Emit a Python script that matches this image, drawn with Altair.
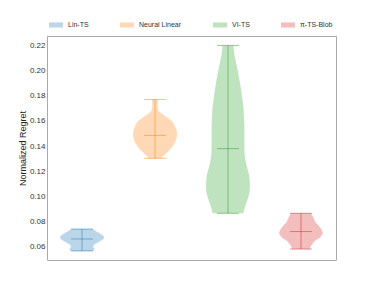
import altair as alt
import pandas as pd

methods = ["Lin-TS", "Neural Linear", "VI-TS", "π-TS-Blob"]
colors = ["#1f77b4", "#ff7f0e", "#2ca02c", "#d62728"]

# violin outlines: regret value and relative density (0-1)
lin_vals = [0.0741, 0.0731, 0.0715, 0.0699, 0.0679, 0.0664, 0.0648, 0.0632, 0.0616, 0.0604, 0.0592, 0.0580, 0.0567]
lin_dens = [0.49, 0.57, 0.72, 0.87, 1.00, 0.98, 0.85, 0.70, 0.55, 0.51, 0.53, 0.57, 0.51]

nl_vals = [0.1771, 0.1732, 0.1692, 0.1668, 0.1652, 0.1628, 0.1612, 0.1593, 0.1573, 0.1549,
           0.1520, 0.1493, 0.1470, 0.1440, 0.1414, 0.1388, 0.1366, 0.1348, 0.1322, 0.1303]
nl_dens = [0.14, 0.12, 0.14, 0.23, 0.36, 0.55, 0.68, 0.80, 0.86, 0.93,
           0.99, 1.00, 0.99, 0.94, 0.86, 0.76, 0.64, 0.53, 0.38, 0.27]

vi_vals = [0.2200, 0.2129, 0.2063, 0.1994, 0.1930, 0.1867, 0.1797, 0.1732, 0.1666, 0.1597,
           0.1533, 0.1470, 0.1400, 0.1335, 0.1269, 0.1231, 0.1189, 0.1136, 0.1083, 0.1041,
           0.1003, 0.0964, 0.0924, 0.0894, 0.0866]
vi_dens = [0.25, 0.29, 0.37, 0.45, 0.52, 0.58, 0.64, 0.69, 0.72, 0.74,
           0.75, 0.75, 0.75, 0.76, 0.82, 0.87, 0.94, 0.99, 1.00, 0.99,
           0.94, 0.87, 0.79, 0.74, 0.70]

pi_vals = [0.0866, 0.0850, 0.0834, 0.0814, 0.0795, 0.0781, 0.0768, 0.0747, 0.0729, 0.0707,
           0.0692, 0.0676, 0.0662, 0.0650, 0.0636, 0.0622, 0.0601, 0.0582]
pi_dens = [0.47, 0.51, 0.56, 0.61, 0.66, 0.74, 0.81, 0.90, 0.96, 1.00,
           0.95, 0.88, 0.77, 0.66, 0.58, 0.52, 0.44, 0.41]

medians = [0.0662, 0.1485, 0.1380, 0.0721]
y_ticks = [0.06, 0.08, 0.10, 0.12, 0.14, 0.16, 0.18, 0.20, 0.22]

all_vals = [lin_vals, nl_vals, vi_vals, pi_vals]
all_dens = [lin_dens, nl_dens, vi_dens, pi_dens]

rows = []
for i, (m, vs, ds) in enumerate(zip(methods, all_vals, all_dens)):
    for v, d in zip(vs, ds):
        rows.append({"method": m, "pos": i + 1, "value": v, "dens": d})
shape_df = pd.DataFrame(rows)

stat_rows = []
for i, (m, vs, med) in enumerate(zip(methods, all_vals, medians)):
    stat_rows.append({"method": m, "pos": i + 1, "vmin": min(vs), "vmax": max(vs), "median": med})
stats_df = pd.DataFrame(stat_rows)

half = 0.3
xscale = alt.Scale(domain=[0.52, 4.48], nice=False, zero=False)
yscale = alt.Scale(domain=[0.0495, 0.2275], nice=False, zero=False)
cscale = alt.Scale(domain=methods, range=colors)

yaxis = alt.Axis(values=y_ticks, format=".2f",
                 title="Normalized Regret", domain=False, ticks=False, tickSize=0, grid=False,
                 labelOverlap=False, labelFlush=False,
                 labelPadding=2, labelFontSize=8, labelColor="#333333", titleFontSize=9,
                 titleFontWeight="normal", titleColor="#222222", titlePadding=2,
                 labelFont="Liberation Sans", titleFont="Liberation Sans")

area = alt.Chart(shape_df).transform_calculate(
    xl=f"datum.pos - datum.dens * {half}",
    xr=f"datum.pos + datum.dens * {half}",
).mark_area(orient="horizontal", interpolate="monotone", opacity=0.3).encode(
    y=alt.Y("value:Q", scale=yscale, axis=yaxis),
    x=alt.X("xl:Q", scale=xscale, axis=None, stack=None),
    x2="xr:Q",
    color=alt.Color("method:N", scale=cscale, sort=methods,
                    legend=alt.Legend(title=None, orient="none", legendX=2, legendY=-18,
                                      direction="horizontal", columns=4, columnPadding=31,
                                      symbolType="M-1,-0.36H1V0.36H-1Z", symbolSize=196,
                                      symbolOpacity=0.3, symbolStrokeWidth=0,
                                      labelFontSize=7, labelOffset=5, labelColor="#333333",
                                      labelFont="Liberation Sans", padding=0)),
)

line_kw = dict(strokeWidth=1, strokeOpacity=0.5)
cnone = alt.Color("method:N", scale=cscale, legend=None)

base = alt.Chart(stats_df).transform_calculate(
    cl=f"datum.pos - {half / 2}",
    cr=f"datum.pos + {half / 2}",
)

bars = base.mark_rule(**line_kw).encode(
    x=alt.X("pos:Q", scale=xscale, axis=None),
    y=alt.Y("vmin:Q", scale=yscale, axis=yaxis),
    y2="vmax:Q",
    color=cnone,
)
caps_min = base.mark_rule(**line_kw).encode(
    x=alt.X("cl:Q", scale=xscale, axis=None), x2="cr:Q",
    y=alt.Y("vmin:Q", scale=yscale, axis=yaxis), color=cnone,
)
caps_max = base.mark_rule(**line_kw).encode(
    x=alt.X("cl:Q", scale=xscale, axis=None), x2="cr:Q",
    y=alt.Y("vmax:Q", scale=yscale, axis=yaxis), color=cnone,
)
meds = base.mark_rule(**line_kw).encode(
    x=alt.X("cl:Q", scale=xscale, axis=None), x2="cr:Q",
    y=alt.Y("median:Q", scale=yscale, axis=yaxis), color=cnone,
)

chart = alt.layer(area, bars, caps_min, caps_max, meds).properties(
    width=289, height=224,
    autosize=alt.AutoSizeParams(type="none"),
    padding={"left": 39, "top": 28, "right": 20, "bottom": 20},
    background="white",
).configure_view(stroke="#aaaaaa", strokeWidth=1).configure_axisY(labelOverlap=False)

chart.save("out.html", embed_options={"renderer": "svg", "actions": False})
